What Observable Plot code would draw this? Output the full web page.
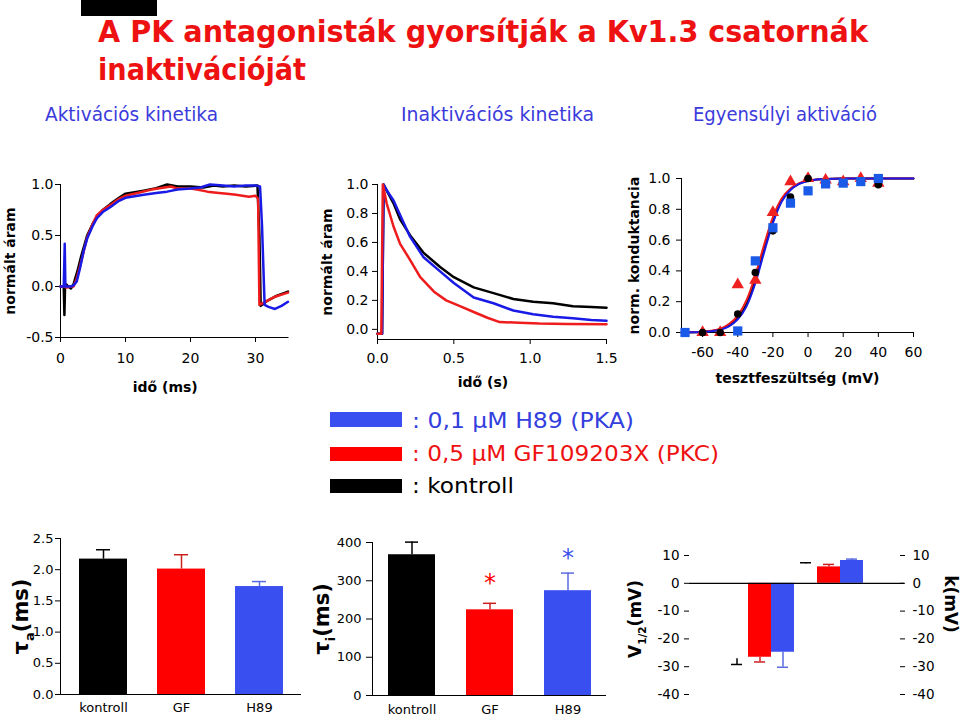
<!DOCTYPE html>
<html><head><meta charset="utf-8">
<script src="https://cdn.jsdelivr.net/npm/d3@7"></script>
<script src="https://cdn.jsdelivr.net/npm/@observablehq/plot@0.6"></script>
<style>
body{margin:0;background:#fff;}
#page{position:relative;width:960px;height:718px;overflow:hidden;background:#fff;}
.abs{position:absolute;}
</style></head><body><div id="page"></div>
<script>
// ---------- categories & colours ----------
const groups = ["kontroll", "GF", "H89"];
const traceColors = ["#000000", "#ee1c1c", "#1a1ae6"];
const barColors = ["#000000", "#ff0000", "#3a4ff0"];
const errColors = ["#000000", "#cc2020", "#5a6be0"];

// ---------- activation traces (time ms, normalised current) ----------
const actT_kontroll = [0,0.5,0.6,0.7,0.9,1.2,1.6,2.0,2.6,3.2,4.1,5.0,5.6,6.5,7.7,9,10,12.8,14.5,16.4,18,20,22,23.6,25,26.7,28.5,30.3,30.6,30.8,31.8,33.3,35];
const actV_kontroll = [0,0,-0.28,0.0,0.02,0,-0.02,0.02,0.15,0.3,0.5,0.62,0.68,0.75,0.81,0.87,0.91,0.94,0.96,1.0,0.98,0.98,0.97,0.99,0.98,0.99,0.98,0.99,0.5,-0.19,-0.14,-0.09,-0.05];
const actT_GF = [0,0.5,1.0,1.5,2.0,2.5,3.0,3.6,4.1,5.0,5.6,6.5,7.7,9,10,12,14,16,17,18,20,21,22.6,24,25.6,27,28,29,30,30.4,30.6,31.5,33,35];
const actV_GF = [0,0,-0.01,0,0.0,0.08,0.2,0.35,0.48,0.62,0.7,0.75,0.8,0.86,0.89,0.92,0.95,0.97,0.98,0.96,0.96,0.95,0.93,0.92,0.91,0.9,0.89,0.88,0.89,0.86,-0.18,-0.15,-0.1,-0.06];
const actT_H89 = [0,0.5,0.65,0.75,1.0,1.5,2.0,2.5,3.0,3.6,4.1,5.0,5.6,6.5,7.7,9,10,12.8,15,16.4,18,20,21.5,23,25,26.7,28.5,30,30.7,31.0,31.4,32,33,34,35];
const actV_H89 = [0,0,0.42,0.0,0,0,0.01,0.05,0.18,0.36,0.47,0.6,0.67,0.73,0.78,0.84,0.87,0.9,0.92,0.93,0.95,0.96,0.97,1.0,0.99,0.98,0.99,0.99,0.98,0.6,-0.18,-0.2,-0.22,-0.19,-0.15];

// ---------- inactivation traces (time s, normalised current) ----------
const inaT_kontroll = [0,0.03,0.035,0.04,0.06,0.105,0.148,0.213,0.3,0.41,0.5,0.63,0.76,0.89,1.02,1.15,1.28,1.4,1.5];
const inaV_kontroll = [-0.03,-0.03,0.5,1.0,0.96,0.87,0.76,0.65,0.53,0.43,0.36,0.29,0.25,0.21,0.19,0.18,0.16,0.155,0.15];
const inaT_H89 = [0,0.03,0.035,0.04,0.06,0.105,0.148,0.213,0.3,0.41,0.5,0.63,0.76,0.89,1.02,1.15,1.28,1.4,1.5];
const inaV_H89 = [-0.03,-0.03,0.5,1.0,0.96,0.89,0.79,0.64,0.5,0.4,0.32,0.22,0.18,0.13,0.105,0.087,0.076,0.065,0.06];
const inaT_GF = [0,0.025,0.03,0.035,0.06,0.105,0.148,0.213,0.28,0.37,0.45,0.54,0.63,0.72,0.8,0.93,1.06,1.24,1.5];
const inaV_GF = [-0.03,-0.03,0.5,1.0,0.87,0.71,0.59,0.48,0.36,0.26,0.2,0.16,0.12,0.08,0.05,0.046,0.04,0.037,0.035];

// ---------- steady-state activation (test voltage mV, normalised conductance) ----------
const gvV_kontroll = [-60,-50,-40,-30,-20,-10,0,10,20,30,40];
const gvG_kontroll = [0,0,0.12,0.39,0.66,0.88,1.0,0.97,0.97,0.98,0.96];
const gvV_GF = [-60,-50,-40,-30,-20,-10,0,10,20,30,40];
const gvG_GF = [0,0,0.31,0.34,0.78,0.98,1.0,0.99,0.98,1.0,0.97];
const gvV_H89 = [-70,-40,-30,-20,-10,0,10,20,30,40];
const gvG_H89 = [0,0.01,0.465,0.68,0.84,0.92,0.965,0.97,0.98,1.0];
// fitted Boltzmann curves
const fitV = [-72,-65,-60,-55,-50,-45,-40,-35,-30,-25,-20,-15,-10,-5,0,5,10,20,40,60];
const fitG_kontroll = [0,0.001,0.004,0.009,0.02,0.045,0.095,0.185,0.34,0.54,0.72,0.855,0.93,0.967,0.985,0.993,0.997,1,1,1];
const fitG_GF = [0.001,0.002,0.005,0.012,0.025,0.055,0.11,0.21,0.37,0.57,0.75,0.87,0.935,0.97,0.985,0.993,0.997,1,1,1];
const fitG_H89 = [0,0.001,0.004,0.008,0.018,0.04,0.085,0.17,0.32,0.52,0.71,0.85,0.925,0.965,0.984,0.993,0.997,1,1,1];

// ---------- bar charts ----------
const tauA = [2.17, 2.01, 1.73];      // ms
const tauAErr = [0.15, 0.23, 0.08];
const tauI = [368, 224, 274];         // ms
const tauIErr = [33, 17, 46];
const tauISig = [null, 293, 358];     // asterisk heights
const v12 = [-27.1, -26.6, -24.8];    // mV
const v12Err = [2.1, 1.7, 5.4];
const kSlope = [6.9, 5.9, 8.2];       // mV
const kErr = [0.5, 0.9, 0.5];

// ---------- tick labels ----------
const actXTicks = [0,10,20,30], actYTicks = [-0.5,0,0.5,1];
const inaXTicks = [0,0.5,1,1.5], inaYTicks = [0,0.2,0.4,0.6,0.8,1];
const gvXTicks = [-60,-40,-20,0,20,40,60], gvYTicks = [0,0.2,0.4,0.6,0.8,1];
const tauAYTicks = [0,0.5,1,1.5,2,2.5], tauIYTicks = [0,100,200,300,400];
const vkTicks = [-40,-30,-20,-10,0,10];

// ---------- helpers ----------
const page = document.getElementById("page");
const FONT = "'DejaVu Sans', Verdana, sans-serif";
const f1 = d => d.toFixed(1);
const f0 = d => String(d);
function traceRows(ts, vs, i, kx = "t", ky = "v") {
  return ts.map((t, j) => ({[kx]: t, [ky]: vs[j], s: groups[i], c: traceColors[i]}));
}
function place(svg, left, top) {
  svg.classList.add("abs");
  svg.style.left = left + "px";
  svg.style.top = top + "px";
  page.appendChild(svg);
  // subscripts written as a_b_c
  svg.querySelectorAll("text").forEach(t => {
    const s = t.textContent;
    if (t.children.length || !s.includes("_")) return;
    const [a, b, c] = s.split("_");
    const fs = parseFloat(getComputedStyle(t).fontSize) || 16;
    const ns = "http://www.w3.org/2000/svg";
    t.textContent = "";
    const t1 = document.createElementNS(ns, "tspan"); t1.textContent = a;
    const t2 = document.createElementNS(ns, "tspan"); t2.textContent = b;
    t2.setAttribute("font-size", (fs * 0.62).toFixed(1)); t2.setAttribute("dy", (fs * 0.28).toFixed(1));
    const t3 = document.createElementNS(ns, "tspan"); t3.textContent = c;
    t3.setAttribute("dy", (-fs * 0.28).toFixed(1));
    t.append(t1, t2, t3);
  });
}
const baseStyle = {fontFamily: FONT, fontSize: "14px", color: "#000", background: "transparent", overflow: "visible"};
const labelStyle = {fontWeight: "bold", fontSize: 14, fill: "#000", textAnchor: "middle", lineAnchor: "middle"};

// ---------- panel 1: activation ----------
const actData = [...traceRows(actT_kontroll, actV_kontroll, 0), ...traceRows(actT_GF, actV_GF, 1), ...traceRows(actT_H89, actV_H89, 2)];
place(Plot.plot({
  width: 300, height: 230, marginLeft: 60, marginRight: 12.5, marginTop: 14, marginBottom: 63,
  style: baseStyle,
  x: {domain: [0, 35], ticks: actXTicks, tickFormat: f0, tickSize: 5, tickPadding: 11, line: true, label: null},
  y: {domain: [-0.5, 1], ticks: actYTicks, tickFormat: f1, tickSize: 5, tickPadding: 2, line: true, label: null},
  marks: [
    Plot.line(actData, {x: "t", y: "v", z: "s", stroke: "c", strokeWidth: 2.5}),
    Plot.text(["normált áram"], {frameAnchor: "left", dx: -50, rotate: -90, ...labelStyle}),
    Plot.text(["idő (ms)"], {frameAnchor: "bottom", dx: -9, dy: 50, ...labelStyle})
  ]
}), 0, 170);

// ---------- panel 2: inactivation ----------
const inaData = [...traceRows(inaT_kontroll, inaV_kontroll, 0), ...traceRows(inaT_H89, inaV_H89, 2), ...traceRows(inaT_GF, inaV_GF, 1)];
place(Plot.plot({
  width: 320, height: 230, marginLeft: 77, marginRight: 14, marginTop: 14, marginBottom: 61,
  style: baseStyle,
  x: {domain: [0, 1.5], ticks: inaXTicks, tickFormat: f1, tickSize: 5, tickPadding: 9, line: true, label: null},
  y: {domain: [-0.07, 1], ticks: inaYTicks, tickFormat: f1, tickSize: 5, tickPadding: 4, line: true, label: null},
  marks: [
    Plot.line(inaData, {x: "t", y: "v", z: "s", stroke: "c", strokeWidth: 2.5}),
    Plot.text(["normált áram"], {frameAnchor: "left", dx: -50, rotate: -90, ...labelStyle}),
    Plot.text(["idő (s)"], {frameAnchor: "bottom", dx: -9, dy: 43, ...labelStyle})
  ]
}), 300, 170);

// ---------- panel 3: steady-state activation ----------
const fitData = [...traceRows(fitV, fitG_kontroll, 0, "V", "g"), ...traceRows(fitV, fitG_GF, 1, "V", "g"), ...traceRows(fitV, fitG_H89, 2, "V", "g")];
const gvK = traceRows(gvV_kontroll, gvG_kontroll, 0, "V", "g");
const gvGF = traceRows(gvV_GF, gvG_GF, 1, "V", "g");
const gvH = traceRows(gvV_H89, gvG_H89, 2, "V", "g");
place(Plot.plot({
  width: 340, height: 230, marginLeft: 61, marginRight: 47, marginTop: 8, marginBottom: 68,
  style: baseStyle,
  x: {domain: [-72, 60], ticks: gvXTicks, tickFormat: f0, tickSize: 5, tickPadding: 10, line: true, label: null},
  y: {domain: [0, 1], ticks: gvYTicks, tickFormat: f1, tickSize: 5, tickPadding: 6, line: true, label: null},
  marks: [
    Plot.line(fitData, {x: "V", y: "g", z: "s", stroke: "c", strokeWidth: 2, curve: "monotone-x"}),
    Plot.dot(gvGF, {x: "V", y: "g", symbol: "triangle", fill: "#ee2020", r: 4.6}),
    Plot.dot(gvK, {x: "V", y: "g", symbol: "circle", fill: "#000", r: 3.8}),
    Plot.dot(gvH, {x: "V", y: "g", symbol: "square", fill: "#1a5ae8", r: 5.2}),
    Plot.text(["norm. konduktancia"], {frameAnchor: "left", dx: -47, rotate: -90, ...labelStyle}),
    Plot.text(["tesztfeszültség (mV)"], {frameAnchor: "bottom", dy: 46, ...labelStyle})
  ]
}), 620, 170);

// ---------- bar panels ----------
function barRows(vals, errs) {
  return groups.map((g, i) => ({g, v: vals[i], hi: vals[i] + errs[i], fill: barColors[i], err: errColors[i]}));
}
const tauARows = barRows(tauA, tauAErr);
const tauIRows = barRows(tauI, tauIErr);
const sigRows = groups.map((g, i) => ({g, y: tauISig[i], c: barColors[i]})).filter(d => d.y != null);
const bigLabel = {fontWeight: "bold", fill: "#000", textAnchor: "middle", lineAnchor: "middle"};

place(Plot.plot({
  width: 305, height: 193, marginLeft: 60, marginRight: 4, marginTop: 13, marginBottom: 24,
  style: {...baseStyle, fontSize: "13px"},
  x: {domain: groups, paddingInner: 0.39, paddingOuter: 0.228, tickSize: 0, tickPadding: 8, label: null},
  y: {domain: [0, 2.5], ticks: tauAYTicks, tickFormat: f1, tickSize: 5, tickPadding: 2, line: true, label: null},
  marks: [
    Plot.ruleX(tauARows, {x: "g", y1: "v", y2: "hi", stroke: "err", strokeWidth: 1.5}),
    Plot.tickY(tauARows, {x: "g", y: "hi", stroke: "err", strokeWidth: 1.5, insetLeft: 17, insetRight: 17}),
    Plot.barY(tauARows, {x: "g", y: "v", fill: "fill"}),
    Plot.ruleY([0], {strokeWidth: 1.2}),
    Plot.text(["τ_a_(ms)"], {frameAnchor: "left", dx: -39, rotate: -90, fontSize: 21, ...bigLabel})
  ]
}), 0, 525);

place(Plot.plot({
  width: 310, height: 193, marginLeft: 67, marginRight: 9, marginTop: 17, marginBottom: 23,
  style: {...baseStyle, fontSize: "13px"},
  x: {domain: groups, paddingInner: 0.40, paddingOuter: 0.19, tickSize: 0, tickPadding: 9, label: null},
  y: {domain: [0, 400], ticks: tauIYTicks, tickSize: 6, tickPadding: 5, line: true, label: null},
  marks: [
    Plot.ruleX(tauIRows, {x: "g", y1: "v", y2: "hi", stroke: "err", strokeWidth: 1.5}),
    Plot.tickY(tauIRows, {x: "g", y: "hi", stroke: "err", strokeWidth: 1.5, insetLeft: 17, insetRight: 17}),
    Plot.barY(tauIRows, {x: "g", y: "v", fill: "fill"}),
    Plot.ruleY([0], {strokeWidth: 1.2}),
    Plot.text(sigRows, {x: "g", y: "y", text: () => "*", fill: "c", fontSize: 24}),
    Plot.text(["τ_i_(ms)"], {frameAnchor: "left", dx: -50, rotate: -90, fontSize: 21, ...bigLabel})
  ]
}), 305, 525);

// V1/2 and k panel
const vkRows = [
  ...groups.map((g, i) => ({key: "V-" + g, g, v: v12[i], hi: v12[i] - v12Err[i], fill: barColors[i], err: errColors[i]})),
  ...groups.map((g, i) => ({key: "k-" + g, g, v: kSlope[i], hi: kSlope[i] + kErr[i], fill: barColors[i], err: errColors[i]}))
];
const vkBars = vkRows.filter(d => d.g !== "kontroll"); // control bars are not shown in the original, only their error bars
place(Plot.plot({
  width: 345, height: 193, marginLeft: 74, marginRight: 61, marginTop: 30, marginBottom: 24,
  style: {...baseStyle, fontSize: "13.5px"},
  x: {domain: vkRows.map(d => d.key), paddingInner: 0, paddingOuter: 1.54, axis: null},
  y: {domain: [-40, 10]},
  marks: [
    Plot.axisY({anchor: "left", ticks: vkTicks, tickFormat: f0, tickSize: 5, tickPadding: 5, line: true, label: null}),
    Plot.axisY({anchor: "right", ticks: vkTicks, tickFormat: f0, tickSize: 5, tickPadding: 8, line: true, label: null}),
    Plot.ruleX(vkRows, {x: "key", y1: "v", y2: "hi", stroke: "err", strokeWidth: 1.5}),
    Plot.tickY(vkRows, {x: "key", y: "hi", stroke: "err", strokeWidth: 1.5, insetLeft: 6, insetRight: 6}),
    Plot.barY(vkBars, {x: "key", y: "v", fill: "fill"}),
    Plot.ruleY([0], {strokeWidth: 1.2, insetRight: -5}),
    Plot.text(["V_1/2_(mV)"], {frameAnchor: "left", dx: -54, dy: -6, rotate: -90, fontSize: 17, ...bigLabel}),
    Plot.text(["k(mV)"], {frameAnchor: "right", dx: 51, dy: -21, rotate: 90, fontSize: 17, ...bigLabel})
  ]
}), 615, 525);

// ---------- title, section headings, legend ----------
const ns = "http://www.w3.org/2000/svg";
const over = document.createElementNS(ns, "svg");
over.setAttribute("width", 960); over.setAttribute("height", 718);
over.setAttribute("class", "abs"); over.style.left = "0px"; over.style.top = "0px";
over.style.pointerEvents = "none";
function txt(s, x, y, size, color, len, weight) {
  const t = document.createElementNS(ns, "text");
  t.setAttribute("x", x); t.setAttribute("y", y);
  t.setAttribute("font-size", size); t.setAttribute("fill", color);
  t.setAttribute("font-family", FONT);
  if (weight) t.setAttribute("font-weight", weight);
  if (len) { t.setAttribute("textLength", len); t.setAttribute("lengthAdjust", "spacingAndGlyphs"); }
  t.textContent = s; over.appendChild(t);
}
function rect(x, y, w, h, color) {
  const r = document.createElementNS(ns, "rect");
  r.setAttribute("x", x); r.setAttribute("y", y); r.setAttribute("width", w); r.setAttribute("height", h);
  r.setAttribute("fill", color); over.appendChild(r);
}
const titleLines = ["A PK antagonisták gyorsítják a Kv1.3 csatornák", "inaktivációját"];
const headings = ["Aktivációs kinetika", "Inaktivációs kinetika", "Egyensúlyi aktiváció"];
const legendLabels = [": 0,1 μM H89 (PKA)", ": 0,5 μM GF109203X (PKC)", ": kontroll"];
const legendColors = ["#3a4ff0", "#ff0000", "#000000"];
const legendText = ["#3340dd", "#ee1111", "#000000"];

rect(81, 0, 76, 16, "#000");
txt(titleLines[0], 98, 42, 31, "#ee1111", 770, "bold");
txt(titleLines[1], 98, 80, 31, "#ee1111", 208, "bold");
txt(headings[0], 45, 121, 19, "#3b3bdc", 173);
txt(headings[1], 401, 121, 19, "#3b3bdc", 193);
txt(headings[2], 693, 121, 19, "#3b3bdc", 184);
[[412, 427, 428, 222], [447, 461, 461, 307], [479, 493, 493, 102]].forEach(([y0, y1, base, len], i) => {
  rect(330, y0, 72, y1 - y0, legendColors[i]);
  txt(legendLabels[i], 412, base, 21, legendText[i], len);
});
page.appendChild(over);
</script>
</body></html>
